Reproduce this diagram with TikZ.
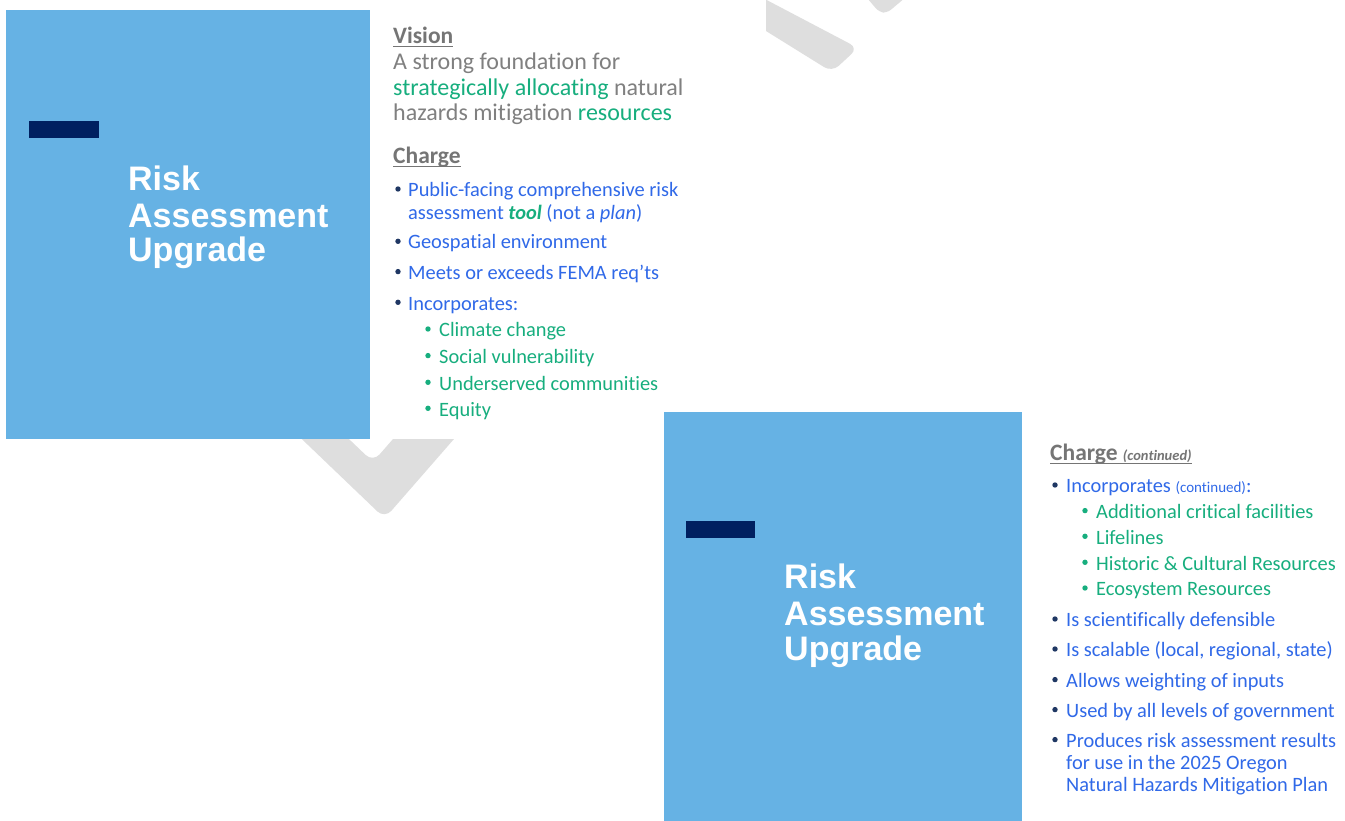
\documentclass[tikz,border=0pt]{standalone}
\usepackage{fontspec}
\setmainfont{Carlito}[Ligatures={NoCommon,NoRequired,NoContextual}]
\newfontfamily\titlefont{Liberation Sans}
\definecolor{boxblue}{HTML}{66B2E4}
\definecolor{navy}{HTML}{002060}
\definecolor{hgray}{HTML}{757575}
\definecolor{vgray}{HTML}{808080}
\definecolor{tblue}{HTML}{3069E8}
\definecolor{tgreen}{HTML}{17AE7E}
\definecolor{dotnavy}{HTML}{1F3763}
\definecolor{chev}{HTML}{DEDEDE}
\tikzset{
  ttl/.style={anchor=base west,inner sep=0pt,text=white,font=\titlefont\bfseries\fontsize{34}{36}\selectfont},
  head/.style={anchor=base west,inner sep=0pt,text=hgray,font=\bfseries\fontsize{23.5}{26}\selectfont},
  vis/.style={anchor=base west,inner sep=0pt,text=vgray,font=\fontsize{24}{26}\selectfont},
  lone/.style={anchor=base west,inner sep=0pt,text=tblue,font=\fontsize{20.4}{23}\selectfont},
  ltwo/.style={anchor=base west,inner sep=0pt,text=tgreen,font=\fontsize{20.4}{23}\selectfont},
  dotone/.style={circle,fill=dotnavy,inner sep=0pt,minimum size=5.4pt},
  dottwo/.style={circle,fill=tgreen,inner sep=0pt,minimum size=5.4pt},
  ul/.style={draw=hgray,line width=1.4pt},
}
\begin{document}
\begin{tikzpicture}[x=1pt,y=-1pt]
\useasboundingbox (0,0) rectangle (1345,821);
\fill[white] (0,0) rectangle (1345,821);
% background chevrons
\begin{scope}
\clip (0,439) rectangle (700,821);
\fill[chev,rounded corners=10pt] (261,400) -- (384.7,518.4) -- (488,400) -- (427,400) -- (373,462) -- (308,400) -- cycle;
\end{scope}
\begin{scope}
\clip (766,0) rectangle (1000,200);
\fill[chev,rounded corners=9pt] (700,-35) -- (858,48) -- (832,72) -- (700,-10) -- cycle;
\fill[chev,rounded corners=5pt] (862,-8) -- (879,12) -- (887,13) -- (912,-8) -- cycle;
\end{scope}
% slide 1
\fill[boxblue] (6,10) rectangle (370,439);
\fill[navy] (29,121) rectangle (99,138);
\node[ttl] (t1a) at (128,190.7) {Risk};
\node[ttl] (t1b) at (128,227.3) {Assessment};
\node[ttl] (t1c) at (128,262) {Upgrade};

\node[head] (vh) at (393,44) {Vision};
\draw[ul] ([yshift=-2.6pt]vh.base west) -- ([yshift=-2.6pt]vh.base east);
\node[vis] (v1) at (393,70) {A strong foundation for};
\node[vis] (v2) at (393,95.5) {\textcolor{tgreen}{strategically allocating} natural};
\node[vis] (v3) at (393,120.5) {hazards mitigation \textcolor{tgreen}{resources}};

\node[head] (ch) at (393,164) {Charge};
\draw[ul] ([yshift=-2.6pt]ch.base west) -- ([yshift=-2.6pt]ch.base east);
\node[dotone] (d1) at (398,189) {};
\node[lone] (c1) at (408,196.7) {Public-facing comprehensive risk};
\node[lone] (c1b) at (408,219.3) {assessment \textcolor{tgreen}{\textbf{\textit{tool}}} (not a \textit{plan})};
\node[dotone] (d2) at (398,241.3) {};
\node[lone] (c2) at (408,249) {Geospatial environment};
\node[dotone] (d3) at (398,271.6) {};
\node[lone] (c3) at (408,279.3) {Meets or exceeds FEMA req’ts};
\node[dotone] (d4) at (398,302.3) {};
\node[lone] (c4) at (408,310) {Incorporates:};
\node[dottwo] (e1) at (428,329) {};
\node[ltwo] (s1) at (439,336.7) {Climate change};
\node[dottwo] (e2) at (428,355.6) {};
\node[ltwo] (s2) at (439,363.3) {Social vulnerability};
\node[dottwo] (e3) at (428,382.3) {};
\node[ltwo] (s3) at (439,390) {Underserved communities};
\node[dottwo] (e4) at (428,408.3) {};
\node[ltwo] (s4) at (439,416) {Equity};

% slide 2
\fill[boxblue] (664,412) rectangle (1022,821);
\fill[navy] (686,521) rectangle (755,538);
\node[ttl] (t2a) at (784,588) {Risk};
\node[ttl] (t2b) at (784,625) {Assessment};
\node[ttl] (t2c) at (784,660) {Upgrade};

\node[head] (ch2) at (1050,460.7) {Charge \textit{\fontsize{14.5}{16}\selectfont(continued)}};
\draw[ul] ([yshift=-2.6pt]ch2.base west) -- ([yshift=-2.6pt]ch2.base east);
\node[dotone] (f1) at (1055,485) {};
\node[lone] (r1) at (1066,492.7) {Incorporates {\fontsize{15}{16}\selectfont(continued)}:};
\node[dottwo] (g1) at (1085,510.6) {};
\node[ltwo] (q1) at (1096,518.3) {Additional critical facilities};
\node[dottwo] (g2) at (1085,536.3) {};
\node[ltwo] (q2) at (1096,544) {Lifelines};
\node[dottwo] (g3) at (1085,562.3) {};
\node[ltwo] (q3) at (1096,570) {Historic \& Cultural Resources};
\node[dottwo] (g4) at (1085,588) {};
\node[ltwo] (q4) at (1096,595.7) {Ecosystem Resources};
\node[dotone] (f2) at (1055,619) {};
\node[lone] (r2) at (1066,626.7) {Is scientifically defensible};
\node[dotone] (f3) at (1055,649) {};
\node[lone] (r3) at (1066,656.7) {Is scalable (local, regional, state)};
\node[dotone] (f4) at (1055,679.6) {};
\node[lone] (r4) at (1066,687.3) {Allows weighting of inputs};
\node[dotone] (f5) at (1055,709.6) {};
\node[lone] (r5) at (1066,717.3) {Used by all levels of government};
\node[dotone] (f6) at (1055,739.6) {};
\node[lone] (r6) at (1066,747.3) {Produces risk assessment results};
\node[lone] (r6b) at (1066,769.5) {for use in the 2025 Oregon};
\node[lone] (r6c) at (1066,791.7) {Natural Hazards Mitigation Plan};
\end{tikzpicture}
\end{document}
